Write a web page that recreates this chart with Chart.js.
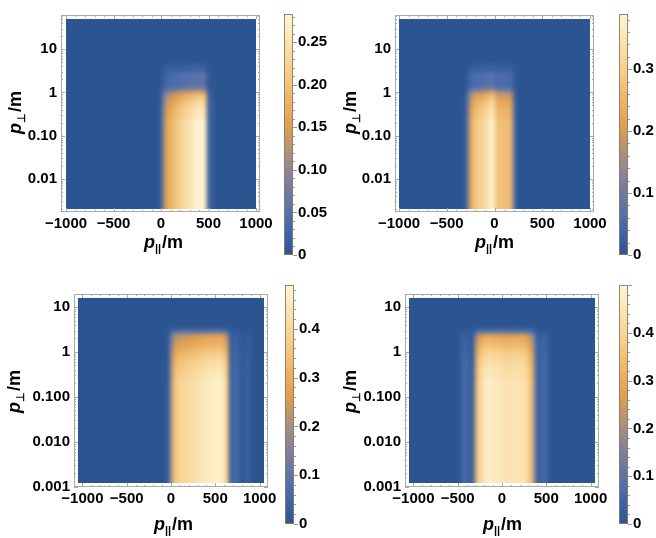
<!DOCTYPE html>
<html>
<head>
<meta charset="utf-8">
<script src="https://cdn.jsdelivr.net/npm/chart.js@4.4.1/dist/chart.umd.min.js"></script>
<style>
  body { margin: 0; background: #fff; width: 656px; height: 538px; position: relative; overflow: hidden; }
  canvas { position: absolute; }
</style>
</head>
<body>
<script>
// ---- axis ticks ----
var xTicks = [-1000, -500, 0, 500, 1000];
var xTickLabels = ['\u22121000', '\u2212500', '0', '500', '1000'];
var yTicksTop = [0.01, 0.1, 1, 10];
var yLabelsTop = ['0.01', '0.10', '1', '10'];
var yTicksBottom = [0.001, 0.01, 0.1, 1, 10];
var yLabelsBottom = ['0.001', '0.010', '0.100', '1', '10'];

// ---- panel 1 (top left) ----
var p1XEdges = [-1000, 0, 30, 60, 100, 150, 200, 250, 300, 350, 400, 440, 470, 485, 520, 545, 1000];
var p1Cols   = [0, 0.06, 0.15, 0.17, 0.19, 0.21, 0.23, 0.245, 0.26, 0.275, 0.28, 0.27, 0.24, 0, 0.04, 0];
var p1YEdges = [0.002, 0.25, 0.45, 0.65, 0.85, 1.05, 1.3, 3.0, 4.5, 50];
var p1Rows   = [1, 0.93, 0.85, 0.75, 0.62, 0.3, 0.2, 0.08, 0];
var cb1Ticks = [0, 0.05, 0.1, 0.15, 0.2, 0.25];
var cb1Labels = ['0', '0.05', '0.10', '0.15', '0.20', '0.25'];

// ---- panel 2 (top right) ----
var p2XEdges = [-1000, -300, -270, -240, -200, -150, -100, -50, 0, 150, 195, 220, 1000];
var p2Cols   = [0, 0.08, 0.22, 0.26, 0.29, 0.31, 0.34, 0.38, 0.27, 0.25, 0.05, 0];
var p2YEdges = [0.002, 0.25, 0.45, 0.65, 0.85, 1.05, 1.3, 3.0, 4.5, 50];
var p2Rows   = [1, 0.93, 0.85, 0.75, 0.62, 0.3, 0.2, 0.08, 0];
var cb2Ticks = [0, 0.1, 0.2, 0.3];
var cb2Labels = ['0', '0.1', '0.2', '0.3'];

// ---- panel 3 (bottom left) ----
var p3XEdges = [-1050, -20, 10, 40, 100, 200, 300, 400, 500, 580, 620, 650, 690, 770, 850, 890, 1050];
var p3Cols   = [0, 0.15, 0.33, 0.37, 0.40, 0.42, 0.44, 0.46, 0.47, 0.44, 0.36, 0, 0.06, 0.015, 0.04, 0];
var p3YEdges = [0.0012, 0.25, 0.45, 0.7, 1.0, 1.3, 1.7, 2.1, 2.5, 2.9, 3.4, 16];
var p3Rows   = [1, 0.96, 0.9, 0.82, 0.74, 0.68, 0.63, 0.58, 0.28, 0.1, 0];
var cb3Ticks = [0, 0.1, 0.2, 0.3, 0.4];
var cb3Labels = ['0', '0.1', '0.2', '0.3', '0.4'];

// ---- panel 4 (bottom right) ----
var p4XEdges = [-1050, -460, -370, -320, -290, -250, -200, -100, 0, 100, 200, 270, 320, 360, 400, 430, 520, 1050];
var p4Cols   = [0, 0.06, 0.02, 0.2, 0.38, 0.43, 0.47, 0.46, 0.44, 0.45, 0.44, 0.40, 0.33, 0.1, 0.02, 0.06, 0];
var p4YEdges = [0.0012, 0.25, 0.45, 0.7, 1.0, 1.3, 1.7, 2.1, 2.5, 2.9, 3.4, 16];
var p4Rows   = [1, 0.97, 0.93, 0.87, 0.8, 0.74, 0.68, 0.62, 0.28, 0.1, 0];
var cb4Ticks = [0, 0.1, 0.2, 0.3, 0.4];
var cb4Labels = ['0', '0.1', '0.2', '0.3', '0.4'];

// colour gradient (blue -> grey -> orange -> cream)
var cmapPos = [0, 0.15, 0.35, 0.55, 0.75, 1];
var cmapRGB = [[43, 85, 145], [76, 109, 176], [142, 134, 148], [228, 161, 79], [246, 203, 134], [255, 247, 214]];

var FONT = '"Liberation Sans", Arial, sans-serif';
var tickFont = { family: FONT, size: 15, weight: 'bold' };
Chart.defaults.font.family = FONT;

function rgb(c) { return 'rgb(' + c[0] + ',' + c[1] + ',' + c[2] + ')'; }

function cmap(t) {
    t = Math.max(0, Math.min(1, t));
    for (var k = 1; k < cmapPos.length; k++) {
        if (t <= cmapPos[k]) {
            var f = (t - cmapPos[k - 1]) / (cmapPos[k] - cmapPos[k - 1]);
            var a = cmapRGB[k - 1], b = cmapRGB[k];
            return rgb([0, 1, 2].map(function(i) { return Math.round(a[i] + (b[i] - a[i]) * f); }));
        }
    }
    return rgb(cmapRGB[cmapRGB.length - 1]);
}

function addCanvas(box) {
    var c = document.createElement('canvas');
    c.width = box[2];
    c.height = box[3];
    c.style.left = box[0] + 'px';
    c.style.top = box[1] + 'px';
    document.body.appendChild(c);
    return c;
}

function drawTitle(ctx, x, y, rotate, sub) {
    ctx.save();
    ctx.translate(x, y);
    if (rotate) ctx.rotate(-Math.PI / 2);
    var f1 = 'italic bold 18px ' + FONT, f2 = 'bold 11px ' + FONT, f3 = 'bold 18px ' + FONT;
    ctx.font = f1; var w1 = ctx.measureText('p').width;
    ctx.font = f2; var w2 = ctx.measureText(sub).width;
    ctx.font = f3; var w3 = ctx.measureText('/m').width;
    var s = -(w1 + w2 + w3) / 2;
    ctx.fillStyle = '#000';
    ctx.textBaseline = 'alphabetic';
    ctx.font = f1; ctx.fillText('p', s, 5);
    ctx.font = f2; ctx.fillText(sub, s + w1, 9);
    ctx.font = f3; ctx.fillText('/m', s + w1 + w2 + 1, 5);
    ctx.restore();
}

function heatPlugin(cfg) {
    return {
        id: 'heat',
        beforeDatasetsDraw: function(chart) {
            var ctx = chart.ctx, sx = chart.scales.x, sy = chart.scales.y;
            var xe = cfg.xEdges, ye = cfg.yEdges;
            var L = sx.getPixelForValue(xe[0]), R = sx.getPixelForValue(xe[xe.length - 1]);
            var T = sy.getPixelForValue(ye[ye.length - 1]), B = sy.getPixelForValue(ye[0]);
            var off = document.createElement('canvas');
            off.width = chart.width;
            off.height = chart.height;
            var oc = off.getContext('2d');
            for (var j = 0; j < ye.length - 1; j++) {
                var y0 = Math.round(sy.getPixelForValue(ye[j])), y1 = Math.round(sy.getPixelForValue(ye[j + 1]));
                if (j === 0) y0 += 12;
                if (j === ye.length - 2) y1 -= 12;
                for (var i = 0; i < xe.length - 1; i++) {
                    var x0 = Math.round(sx.getPixelForValue(xe[i])), x1 = Math.round(sx.getPixelForValue(xe[i + 1]));
                    if (i === 0) x0 -= 12;
                    if (i === xe.length - 2) x1 += 12;
                    oc.fillStyle = cmap(cfg.cols[i] * cfg.rows[j] / cfg.vmax);
                    oc.fillRect(x0, y1, x1 - x0, y0 - y1);
                }
            }
            ctx.save();
            ctx.fillStyle = cmap(0);
            ctx.fillRect(L, T, R - L, B - T);
            ctx.beginPath();
            ctx.rect(L, T, R - L, B - T);
            ctx.clip();
            ctx.filter = 'blur(2px)';
            ctx.drawImage(off, 0, 0);
            ctx.restore();
        },
        afterDraw: function(chart) {
            var ctx = chart.ctx, a = chart.chartArea, sx = chart.scales.x, sy = chart.scales.y;
            ctx.save();
            ctx.strokeStyle = '#a8a8a8';
            ctx.lineWidth = 1;
            ctx.strokeRect(a.left + 0.5, a.top + 0.5, a.right - a.left - 1, a.bottom - a.top - 1);
            ctx.beginPath();
            for (var v = -1000; v <= 1000; v += 100) {
                var px = Math.round(sx.getPixelForValue(v)) + 0.5;
                var len = v % 500 === 0 ? 4 : 2;
                ctx.moveTo(px, a.bottom); ctx.lineTo(px, a.bottom - len);
                ctx.moveTo(px, a.top); ctx.lineTo(px, a.top + len);
            }
            var d0 = Math.floor(Math.log10(sy.min)), d1 = Math.ceil(Math.log10(sy.max));
            for (var d = d0; d <= d1; d++) {
                for (var k = 1; k <= 9; k++) {
                    var val = k * Math.pow(10, d);
                    if (val < sy.min || val > sy.max) continue;
                    var py = Math.round(sy.getPixelForValue(val)) + 0.5;
                    var l2 = k === 1 ? 4 : 2;
                    ctx.moveTo(a.left, py); ctx.lineTo(a.left + l2, py);
                    ctx.moveTo(a.right, py); ctx.lineTo(a.right - l2, py);
                }
            }
            ctx.stroke();
            ctx.restore();
            drawTitle(ctx, cfg.yTitle[0] - cfg.box[0], cfg.yTitle[1] - cfg.box[1], true, '\u22A5');
            drawTitle(ctx, cfg.xTitle[0] - cfg.box[0], cfg.xTitle[1] - cfg.box[1], false, '||');
        }
    };
}

function heatChart(cfg) {
    var c = addCanvas(cfg.box);
    var W = cfg.box[2], H = cfg.box[3];
    var fL = cfg.frame[0] - cfg.box[0], fT = cfg.frame[1] - cfg.box[1];
    var fR = cfg.frame[2] - cfg.box[0], fB = cfg.frame[3] - cfg.box[1];
    new Chart(c, {
        type: 'scatter',
        data: { datasets: [{ data: [] }] },
        options: {
            responsive: false,
            animation: false,
            layout: { padding: { left: 0, top: fT, right: W - fR, bottom: 0 } },
            plugins: { legend: { display: false }, tooltip: { enabled: false } },
            scales: {
                x: {
                    type: 'linear', min: cfg.xMin, max: cfg.xMax,
                    grid: { display: false, drawTicks: false }, border: { display: false },
                    afterBuildTicks: function(s) { s.ticks = xTicks.map(function(v) { return { value: v }; }); },
                    afterFit: function(s) { s.height = H - fB; },
                    ticks: {
                        autoSkip: false, maxRotation: 0, padding: 3, color: '#000', font: tickFont,
                        callback: function(v, i) { return xTickLabels[i]; }
                    }
                },
                y: {
                    type: 'logarithmic', min: cfg.yMin, max: cfg.yMax,
                    grid: { display: false, drawTicks: false }, border: { display: false },
                    afterBuildTicks: function(s) { s.ticks = cfg.yTicks.map(function(v) { return { value: v }; }); },
                    afterFit: function(s) { s.width = fL; },
                    ticks: {
                        autoSkip: false, padding: 4, color: '#000', font: tickFont,
                        callback: function(v, i) { return cfg.yLabels[i]; }
                    }
                }
            }
        },
        plugins: [heatPlugin(cfg)]
    });
}

function barPlugin(cfg) {
    return {
        id: 'cbar',
        afterDraw: function(chart) {
            var ctx = chart.ctx, a = chart.chartArea, sy = chart.scales.y;
            ctx.save();
            ctx.strokeStyle = 'rgba(140,122,95,0.9)';
            ctx.lineWidth = 1;
            ctx.strokeRect(a.left + 0.5, a.top + 0.5, a.right - a.left - 1, a.bottom - a.top - 1);
            ctx.strokeStyle = '#999';
            ctx.beginPath();
            var n = Math.round(cfg.vmax / cfg.minor);
            for (var k = 0; k <= n; k++) {
                var v = k * cfg.minor;
                if (v > cfg.vmax) break;
                var py = Math.round(sy.getPixelForValue(v)) + 0.5;
                var major = Math.abs(v / cfg.step - Math.round(v / cfg.step)) < 1e-6;
                ctx.moveTo(a.right, py);
                ctx.lineTo(a.right + (major ? 4 : 2), py);
            }
            ctx.stroke();
            ctx.restore();
        }
    };
}

function barChart(cfg) {
    var c = addCanvas(cfg.box);
    var W = cfg.box[2], H = cfg.box[3];
    var bL = cfg.bar[0] - cfg.box[0], bT = cfg.bar[1] - cfg.box[1];
    var bR = cfg.bar[2] - cfg.box[0], bB = cfg.bar[3] - cfg.box[1];
    new Chart(c, {
        type: 'bar',
        data: {
            labels: [''],
            datasets: [{
                data: [cfg.vmax],
                barPercentage: 1,
                categoryPercentage: 1,
                borderWidth: 0,
                backgroundColor: function(context) {
                    var ch = context.chart, a = ch.chartArea;
                    if (!a) return cmap(0);
                    var g = ch.ctx.createLinearGradient(0, a.bottom, 0, a.top);
                    for (var k = 0; k < cmapPos.length; k++) g.addColorStop(cmapPos[k], rgb(cmapRGB[k]));
                    return g;
                }
            }]
        },
        options: {
            responsive: false,
            animation: false,
            layout: { padding: { left: bL, top: bT, right: 0, bottom: H - bB } },
            plugins: { legend: { display: false }, tooltip: { enabled: false } },
            scales: {
                x: { display: false },
                y: {
                    position: 'right', min: 0, max: cfg.vmax,
                    grid: { display: false, drawTicks: false }, border: { display: false },
                    afterBuildTicks: function(s) { s.ticks = cfg.ticks.map(function(v) { return { value: v }; }); },
                    afterFit: function(s) { s.width = W - bR; },
                    ticks: {
                        padding: 5, color: '#000', font: tickFont,
                        callback: function(v, i) { return cfg.labels[i]; }
                    }
                }
            }
        },
        plugins: [barPlugin(cfg)]
    });
}

// ---- build the four panels ----
heatChart({ box: [0, 0, 300, 270], frame: [61, 15, 260, 212], xMin: -1053, xMax: 1042, yMin: 0.0017, yMax: 62,
    xEdges: p1XEdges, cols: p1Cols, yEdges: p1YEdges, rows: p1Rows, vmax: 0.283,
    yTicks: yTicksTop, yLabels: yLabelsTop, yTitle: [16, 113], xTitle: [163, 243] });
barChart({ box: [276, 0, 54, 270], bar: [284, 9, 293, 255], vmax: 0.283, step: 0.05, minor: 0.01,
    ticks: cb1Ticks, labels: cb1Labels });

heatChart({ box: [330, 0, 300, 270], frame: [395, 15, 594, 212], xMin: -1042, xMax: 1042, yMin: 0.0017, yMax: 62,
    xEdges: p2XEdges, cols: p2Cols, yEdges: p2YEdges, rows: p2Rows, vmax: 0.389,
    yTicks: yTicksTop, yLabels: yLabelsTop, yTitle: [351, 113], xTitle: [494, 243] });
barChart({ box: [610, 0, 46, 270], bar: [619, 9, 628, 255], vmax: 0.389, step: 0.1, minor: 0.02,
    ticks: cb2Ticks, labels: cb2Labels });

heatChart({ box: [0, 270, 300, 268], frame: [74, 294, 268, 487], xMin: -1095, xMax: 1095, yMin: 0.000977, yMax: 19.6,
    xEdges: p3XEdges, cols: p3Cols, yEdges: p3YEdges, rows: p3Rows, vmax: 0.49,
    yTicks: yTicksBottom, yLabels: yLabelsBottom, yTitle: [15, 392], xTitle: [173, 525] });
barChart({ box: [278, 270, 52, 268], bar: [285, 285, 294, 533], vmax: 0.49, step: 0.1, minor: 0.02,
    ticks: cb3Ticks, labels: cb3Labels });

heatChart({ box: [330, 270, 300, 268], frame: [405, 294, 599, 487], xMin: -1095, xMax: 1095, yMin: 0.000977, yMax: 19.6,
    xEdges: p4XEdges, cols: p4Cols, yEdges: p4YEdges, rows: p4Rows, vmax: 0.5,
    yTicks: yTicksBottom, yLabels: yLabelsBottom, yTitle: [351, 392], xTitle: [502, 525] });
barChart({ box: [610, 270, 46, 268], bar: [619, 285, 628, 533], vmax: 0.5, step: 0.1, minor: 0.02,
    ticks: cb4Ticks, labels: cb4Labels });
</script>
</body>
</html>
